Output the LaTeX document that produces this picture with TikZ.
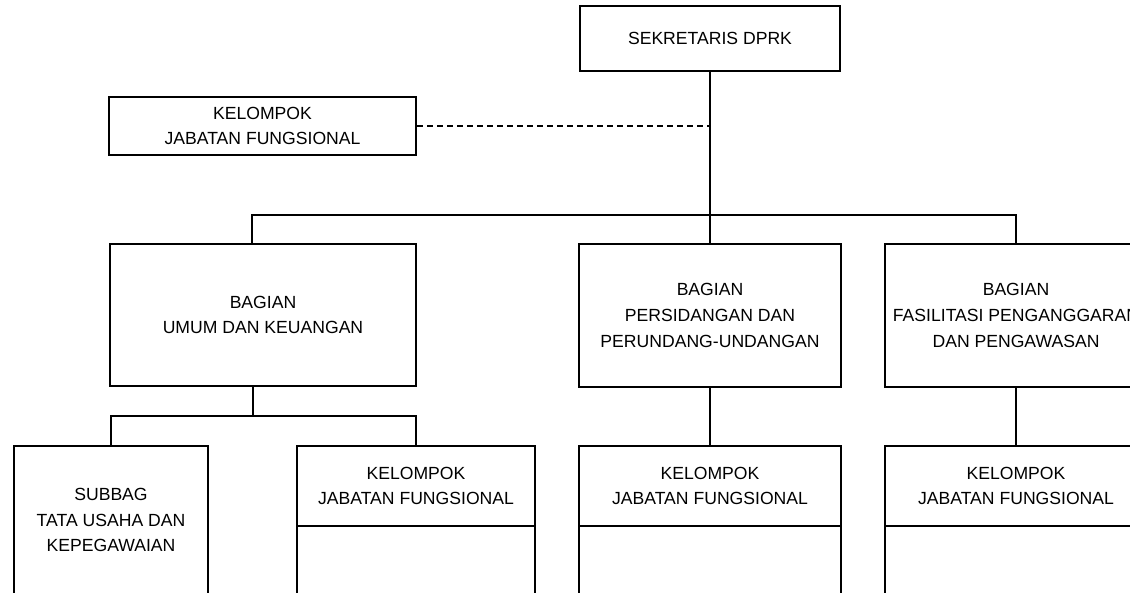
\documentclass[tikz,border=0pt]{standalone}
\usepackage{fontspec}
\setmainfont{Liberation Sans}
\begin{document}
\begin{tikzpicture}[x=0.75pt,y=-0.75pt,
  orgbox/.style={draw, line width=1.5pt, inner sep=0pt, align=center,
    font=\fontsize{13.2}{19.2}\selectfont},
  link/.style={line width=1.5pt},
  dotlink/.style={line width=1.5pt, dash pattern=on 4.5pt off 3pt}]
\useasboundingbox (0,0) rectangle (1130,592);
\clip (0,0) rectangle (1130,592);

% top level
\node[orgbox, minimum width=195pt, minimum height=48.75pt] (top) at (710,38.5) {SEKRETARIS DPRK};
\node[orgbox, minimum width=230.25pt, minimum height=43.5pt] (kjfa) at (262.5,126) {KELOMPOK\\JABATAN FUNGSIONAL};

% departments
\node[orgbox, minimum width=229.5pt, minimum height=106.5pt] (umum) at (263,315) {BAGIAN\\UMUM DAN KEUANGAN};
\node[orgbox, minimum width=196.5pt, minimum height=107.25pt] (pers) at (710,315.5) {BAGIAN\\PERSIDANGAN DAN\\PERUNDANG-UNDANGAN};
\node[orgbox, minimum width=196.5pt, minimum height=107.25pt] (fasi) at (1016,315.5) {BAGIAN\\FASILITASI PENGANGGARAN\\DAN PENGAWASAN};

% lower level
\node[orgbox, minimum width=145.5pt, minimum height=111pt] (subbag) at (111,520) {SUBBAG\\TATA USAHA DAN\\KEPEGAWAIAN};
\node[orgbox, minimum width=178.5pt, minimum height=60pt] (kjfb) at (416,486) {KELOMPOK\\JABATAN FUNGSIONAL};
\node[orgbox, minimum width=178.5pt, minimum height=51pt] (kjfbx) at (416,560) {};
\node[orgbox, minimum width=196.5pt, minimum height=60pt] (kjfc) at (710,486) {KELOMPOK\\JABATAN FUNGSIONAL};
\node[orgbox, minimum width=196.5pt, minimum height=51pt] (kjfcx) at (710,560) {};
\node[orgbox, minimum width=196.5pt, minimum height=60pt] (kjfd) at (1016,486) {KELOMPOK\\JABATAN FUNGSIONAL};
\node[orgbox, minimum width=196.5pt, minimum height=51pt] (kjfdx) at (1016,560) {};

% connectors
\coordinate (bus) at (710,215);
\coordinate (bus2) at (253,416);
\draw[link] (top.south) -- (pers.north);
\draw[link] ([xshift=-8.25pt]umum.north) |- (bus) -| (fasi.north);
\draw[dotlink] (kjfa.east) -- (kjfa.east -| top.south);
\draw[link] (umum.south -| bus2) -- (bus2);
\draw[link] (subbag.north) |- (bus2) -| (kjfb.north);
\draw[link] (pers.south) -- (kjfc.north);
\draw[link] (fasi.south) -- (kjfd.north);
\end{tikzpicture}
\end{document}
